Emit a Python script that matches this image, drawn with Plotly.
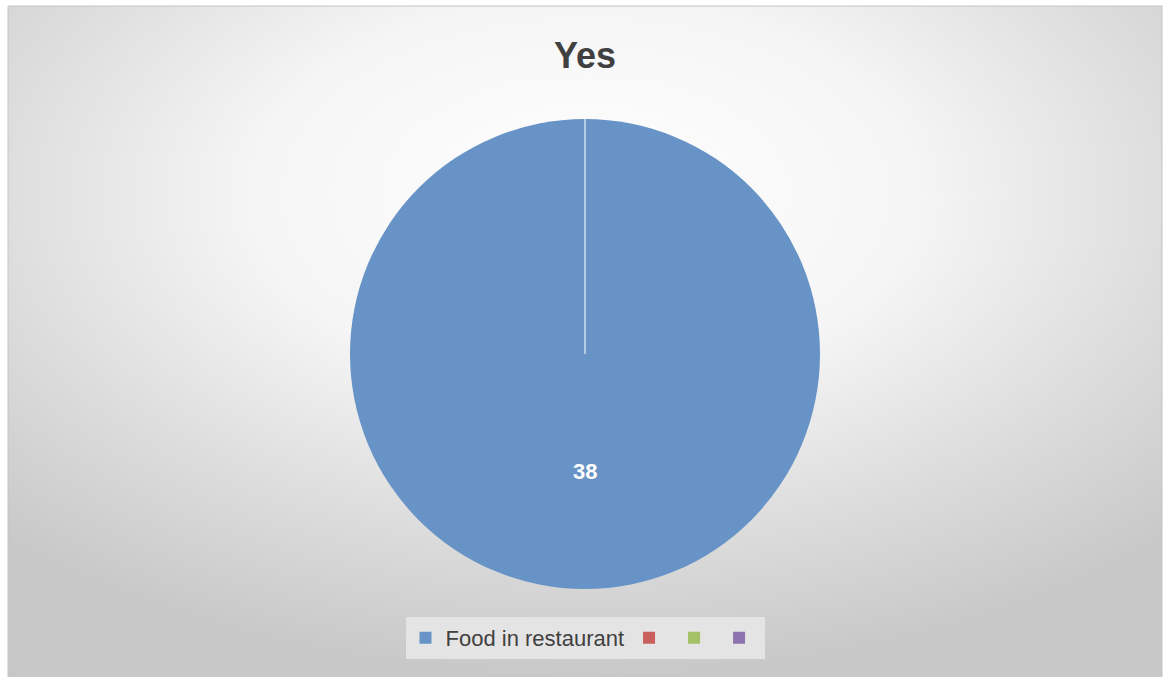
import base64
import plotly.graph_objects as go

# Chart data
labels = ["Food in restaurant", "\u200b", "\u200b\u200b", "\u200b\u200b\u200b"]
values = [38, 0, 0, 0]
colors = ["#6793c6", "#c9605e", "#a5c166", "#8e74ae"]
title_text = "Yes"

W, H = 1164, 677
# chart frame (pixels)
FX0, FY0, FX1, FY1 = 8, 6, 1162, 677

# pie placement in paper fractions
dom_x = [350 / W, 820 / W]
dom_y = [1 - 589 / H, 1 - 119 / H]

# soft radial background for the chart area
svg = (
    "<svg xmlns='http://www.w3.org/2000/svg' width='1154' height='671' "
    "viewBox='0 0 1154 671' preserveAspectRatio='none'>"
    "<defs><radialGradient id='g' cx='0.5' cy='0.28' r='0.72'>"
    "<stop offset='0' stop-color='#ffffff'/>"
    "<stop offset='0.4' stop-color='#f5f5f5'/>"
    "<stop offset='0.72' stop-color='#dcdcdc'/>"
    "<stop offset='1' stop-color='#c8c8c8'/>"
    "</radialGradient></defs>"
    "<rect x='0' y='0' width='1154' height='671' fill='url(#g)'/></svg>"
)
bg_src = "data:image/svg+xml;base64," + base64.b64encode(svg.encode()).decode()

fig = go.Figure(
    go.Pie(
        labels=labels,
        values=values,
        marker=dict(colors=colors, line=dict(width=0)),
        textinfo="none",
        sort=False,
        direction="clockwise",
        rotation=0,
        hoverinfo="skip",
        domain=dict(x=dom_x, y=dom_y),
        showlegend=True,
    )
)

# pie geometry in paper fractions
cx = (dom_x[0] + dom_x[1]) / 2
cy = (dom_y[0] + dom_y[1]) / 2
r_px = min((dom_x[1] - dom_x[0]) * W, (dom_y[1] - dom_y[0]) * H) / 2

# slice boundary from centre to 12 o'clock
fig.add_shape(
    type="line", xref="paper", yref="paper",
    x0=cx, y0=cy, x1=cx, y1=cy + r_px / H,
    line=dict(color="rgba(225,235,247,0.85)", width=1.5),
    layer="above",
)

# data label at mid-angle of the slice, half radius out
fig.add_annotation(
    x=cx, y=cy - (r_px / 2) / H, xref="paper", yref="paper",
    text=str(values[0]), showarrow=False,
    font=dict(family="Liberation Sans", size=22, color="#ffffff", weight="bold"),
    xanchor="center", yanchor="middle",
)

# chart frame
fig.add_shape(
    type="rect", xref="paper", yref="paper",
    x0=FX0 / W, x1=FX1 / W, y0=1 - FY1 / H, y1=1 - FY0 / H,
    line=dict(color="#c4c4c4", width=1), layer="below",
)

fig.update_layout(
    width=W, height=H,
    margin=dict(l=0, r=0, t=0, b=0),
    paper_bgcolor="#ffffff",
    plot_bgcolor="rgba(0,0,0,0)",
    images=[dict(
        source=bg_src, xref="paper", yref="paper",
        x=FX0 / W, y=1 - FY0 / H,
        sizex=(FX1 - FX0) / W, sizey=(FY1 - FY0) / H,
        xanchor="left", yanchor="top", sizing="stretch", layer="below",
    )],
    title=dict(
        text=title_text, x=585 / W, xanchor="center",
        y=1 - 55 / H, yanchor="middle",
        font=dict(family="Liberation Sans", size=36, color="#404040", weight="bold"),
    ),
    legend=dict(
        orientation="h", x=585 / W, xanchor="center",
        y=1 - 617 / H, yanchor="top",
        bgcolor="#e4e4e4", borderwidth=0,
        font=dict(family="Liberation Sans", size=22, color="#404040"),
        traceorder="normal",
    ),
)

fig.write_html("out.html")
